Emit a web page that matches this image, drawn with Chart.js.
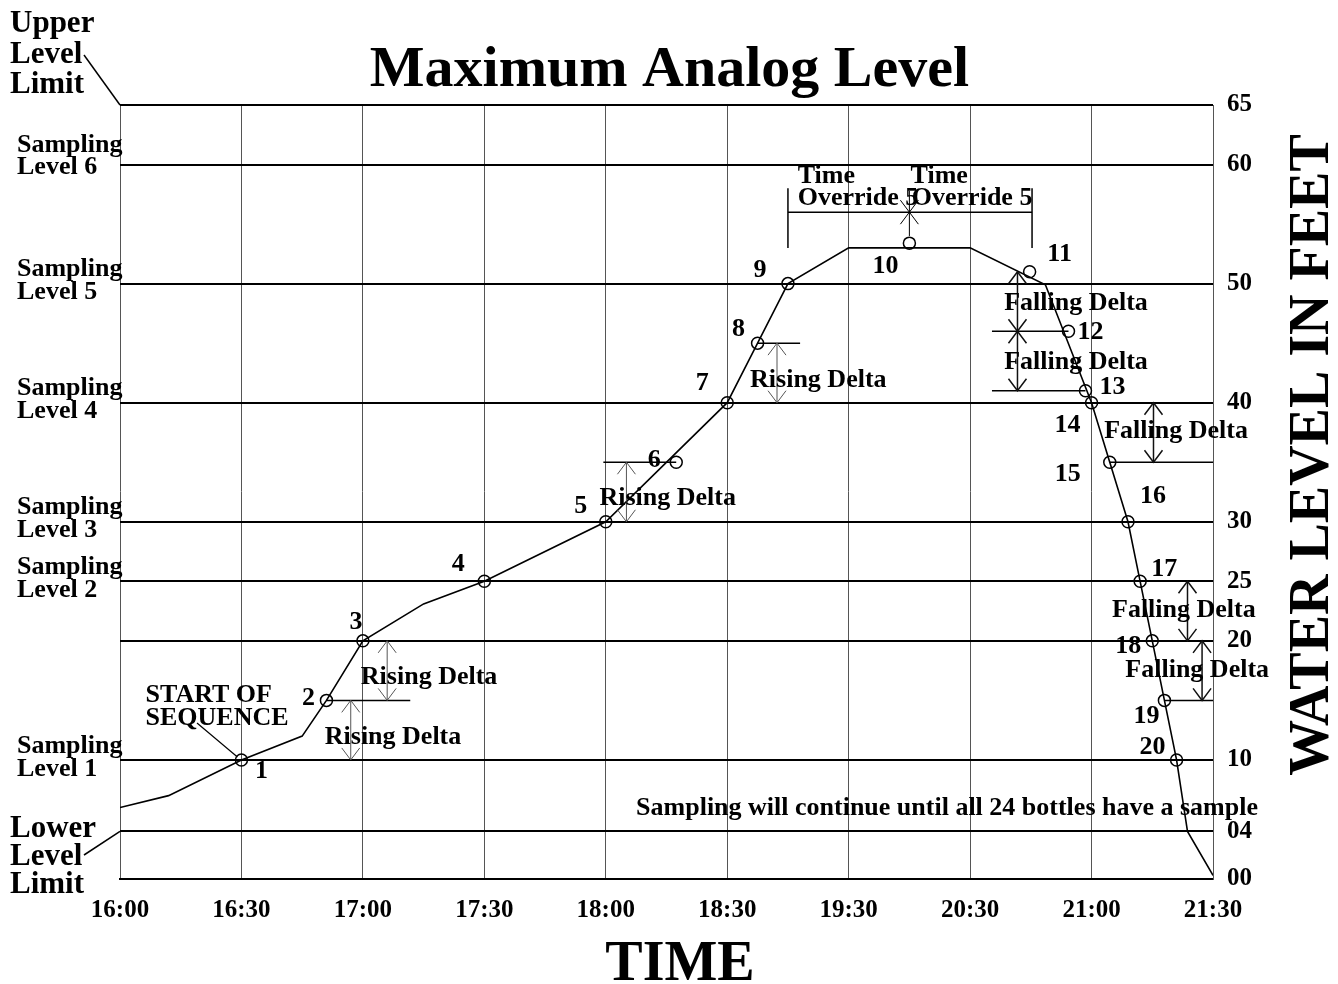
<!DOCTYPE html>
<html>
<head>
<meta charset="utf-8">
<script src="https://cdn.jsdelivr.net/npm/chart.js@4.4.0/dist/chart.umd.min.js"></script>
<style>
  html, body { margin: 0; padding: 0; background: #fff; }
</style>
</head>
<body>
<canvas id="levelChart" width="1338" height="984"></canvas>
<script>
// x is measured in tick slots (0 = 16:00 ... 9 = 21:30), y in feet
const timeLabels = ["16:00", "16:30", "17:00", "17:30", "18:00", "18:30", "19:30", "20:30", "21:00", "21:30"];
const levelTicks = [0, 4, 10, 20, 25, 30, 40, 50, 60, 65];
const samplingLevels = [10, 25, 30, 40, 50, 60];

const lineTimes = [0, 0.4, 1, 1.5, 1.7, 2, 2.5, 3, 4, 5, 5.25, 5.5, 6, 7, 7.62, 8, 8.15, 8.3, 8.4, 8.5, 8.6, 8.7, 8.79, 9];
const lineLevels = [6, 7, 10, 12, 15, 20, 23.1, 25, 30, 40, 45, 50, 53, 53, 49.9, 40, 35, 30, 25, 20, 15, 10, 4, 0.3];

const sampleTimes = [1, 1.7, 2, 3, 4, 4.58, 5, 5.25, 5.5, 6.5, 7.49, 7.81, 7.95, 8, 8.15, 8.3, 8.4, 8.5, 8.6, 8.7];
const sampleLevels = [10, 15, 20, 25, 30, 35, 40, 45, 50, 53.4, 51, 46, 41, 40, 35, 30, 25, 20, 15, 10];

const FONT = '"Liberation Serif", "DejaVu Serif", serif';
const MID = 26;

function txt(ctx, s, x, y, size, align, base) {
  ctx.font = "bold " + size + "px " + FONT;
  ctx.textAlign = align || "center";
  ctx.textBaseline = base || "middle";
  ctx.fillText(s, x, y);
}

function line(ctx, x1, y1, x2, y2) {
  ctx.beginPath();
  ctx.moveTo(x1, y1);
  ctx.lineTo(x2, y2);
  ctx.stroke();
}

// dir -1 = tip points up, 1 = tip points down
function head(ctx, x, y, dir) {
  ctx.beginPath();
  ctx.moveTo(x - 9, y - dir * 12);
  ctx.lineTo(x, y);
  ctx.lineTo(x + 9, y - dir * 12);
  ctx.stroke();
}

const annotate = {
  id: "annotate",
  afterDraw(chart) {
    const { ctx, chartArea: a, scales } = chart;
    const X = v => scales.x.getPixelForValue(v);
    const Y = v => scales.y.getPixelForValue(v);
    ctx.save();
    ctx.fillStyle = "#000";
    ctx.strokeStyle = "#000";

    // titles
    txt(ctx, "Maximum Analog Level", (a.left + a.right) / 2 + 3, 86, 58, "center", "alphabetic");
    txt(ctx, "TIME", 680, 980, 56, "center", "alphabetic");
    ctx.save();
    ctx.translate(1328, 455);
    ctx.rotate(-Math.PI / 2);
    txt(ctx, "WATER LEVEL IN FEET", 0, 0, 56, "center", "alphabetic");
    ctx.restore();

    // left side labels
    txt(ctx, "Upper", 10, 32, 31, "left", "alphabetic");
    txt(ctx, "Level", 10, 63, 31, "left", "alphabetic");
    txt(ctx, "Limit", 10, 93, 31, "left", "alphabetic");
    ctx.lineWidth = 1.5;
    line(ctx, 84, 55, a.left, a.top);
    txt(ctx, "Lower", 10, 837, 31, "left", "alphabetic");
    txt(ctx, "Level", 10, 865, 31, "left", "alphabetic");
    txt(ctx, "Limit", 10, 893, 31, "left", "alphabetic");
    line(ctx, 84, 855, a.left, Y(4));

    samplingLevels.forEach((lv, i) => {
      const up = i === 5 ? 19 : 14, dn = i === 5 ? 3 : 9;
      txt(ctx, "Sampling", 17, Y(lv) - up, MID, "left");
      txt(ctx, "Level " + (i + 1), 17, Y(lv) + dn, MID, "left");
    });

    // sample numbers, offset from each circle
    const offs = [[20, 11], [-18, -2], [-7, -19], [-26, -17], [-25, -15], [-22, -2], [-25, -19], [-19, -14], [-28, -13], [-24, 23],
                  [30, -17], [22, 1], [27, -4], [-24, 23], [-42, 12], [25, -25], [24, -12], [-24, 5], [-18, 16], [-24, -13]];
    sampleTimes.forEach((t, i) => {
      txt(ctx, String(i + 1), X(t) + offs[i][0], Y(sampleLevels[i]) + offs[i][1], MID);
    });

    // start of sequence
    txt(ctx, "START OF", X(0.21), 702, MID, "left", "alphabetic");
    txt(ctx, "SEQUENCE", X(0.21), 725, MID, "left", "alphabetic");
    ctx.lineWidth = 1.2;
    line(ctx, 197, 723, X(1) - 4, Y(10) - 3);

    // short reference lines for the deltas
    const refs = [[15, 1.70, 2.39], [20, 2.0, 2.39], [35, 3.98, 4.58], [45, 5.25, 5.60],
                  [46, 7.18, 7.81], [41, 7.18, 7.95], [35, 8.15, 9], [15, 8.60, 9]];
    ctx.lineWidth = 1.5;
    refs.forEach(r => line(ctx, X(r[1]), Y(r[0]), X(r[2]), Y(r[0])));

    const rising = [[1.90, 10, 15, 2.248, 11.92], [2.20, 15, 20, 2.545, 16.96], [4.17, 30, 35, 4.51, 31.99], [5.41, 40, 45, 5.75, 41.9]];
    const falling = [[7.39, 46, 51, 7.872, 48.36], [7.39, 41, 46, 7.872, 43.4], [8.51, 35, 40, 8.696, 37.6],
                     [8.79, 20, 25, 8.76, 22.6], [8.91, 15, 20, 8.87, 17.5]];
    function delta(d, label, color, w) {
      ctx.strokeStyle = color;
      ctx.lineWidth = w;
      const x = X(d[0]);
      line(ctx, x, Y(d[1]), x, Y(d[2]));
      head(ctx, x, Y(d[2]), -1);
      head(ctx, x, Y(d[1]), 1);
      ctx.strokeStyle = "#000";
      txt(ctx, label, X(d[3]), Y(d[4]), MID);
    }
    rising.forEach(d => delta(d, "Rising Delta", "#555", 1));
    falling.forEach(d => delta(d, "Falling Delta", "#111", 1.5));

    // time override bracket
    ctx.lineWidth = 1.5;
    line(ctx, X(5.5), Y(53), X(5.5), Y(58));
    line(ctx, X(7.51), Y(53), X(7.51), Y(58));
    line(ctx, X(5.5), Y(56), X(7.51), Y(56));
    ctx.lineWidth = 1;
    line(ctx, X(6.5), Y(54), X(6.5), Y(57.8));
    head(ctx, X(6.5), Y(56), -1);
    head(ctx, X(6.5), Y(56), 1);
    txt(ctx, "Time", X(5.58), Y(59.0), MID, "left");
    txt(ctx, "Override 5", X(5.58), Y(57.2), MID, "left");
    txt(ctx, "Time", X(6.51), Y(59.0), MID, "left");
    txt(ctx, "Override 5", X(6.52), Y(57.2), MID, "left");

    txt(ctx, "Sampling will continue until all 24 bottles have a sample", a.right + 45, Y(5.96), MID, "right");
    ctx.restore();
  }
};

const ctx = document.getElementById("levelChart").getContext("2d");

const levelChart = new Chart(ctx, {
  type: "line",
  data: {
    datasets: [
      {
        label: "Level",
        data: lineTimes.map((t, i) => ({ x: t, y: lineLevels[i] })),
        borderColor: "#000",
        borderWidth: 1.6,
        pointRadius: 0,
        tension: 0,
      },
      {
        label: "Samples",
        data: sampleTimes.map((t, i) => ({ x: t, y: sampleLevels[i] })),
        showLine: false,
        pointStyle: "circle",
        pointRadius: 6,
        borderColor: "#000",
        borderWidth: 1.5,
        backgroundColor: "rgba(0,0,0,0)",
      },
    ],
  },
  options: {
    responsive: false,
    animation: false,
    devicePixelRatio: 1,
    layout: { padding: { left: 120, top: 105, right: 0, bottom: 0 } },
    plugins: { legend: { display: false }, tooltip: { enabled: false } },
    scales: {
      x: {
        type: "linear",
        min: 0,
        max: 9,
        afterBuildTicks: s => { s.ticks = timeLabels.map((_, i) => ({ value: i })); },
        afterFit: s => { s.height = 105; },
        ticks: {
          autoSkip: false,
          maxRotation: 0,
          padding: 17,
          color: "#000",
          font: { family: FONT, size: 25, weight: "bold" },
          callback: v => timeLabels[v],
        },
        grid: { color: "#555", lineWidth: 1, drawTicks: false },
        border: { color: "#000", width: 2 },
      },
      y: {
        position: "right",
        min: 0,
        max: 65,
        afterBuildTicks: s => { s.ticks = levelTicks.map(v => ({ value: v })); },
        afterFit: s => { s.width = 125; },
        ticks: {
          padding: 14,
          color: "#000",
          font: { family: FONT, size: 25, weight: "bold" },
          callback: v => String(v).padStart(2, "0"),
        },
        grid: { color: "#000", lineWidth: 2, drawTicks: false },
        border: { color: "#555", width: 1 },
      },
    },
  },
  plugins: [annotate],
});
</script>
</body>
</html>
